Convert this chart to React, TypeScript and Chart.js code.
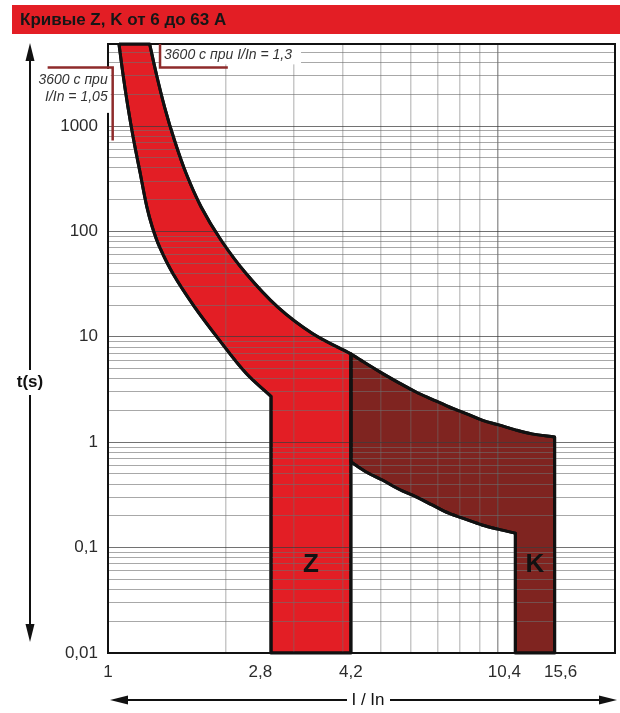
import React, { useEffect, useRef } from "react";
import { Chart, registerables } from "chart.js";

Chart.register(...registerables);

// ---------- texts ----------
const chartTitle = "Кривые Z, K от 6 до 63 A";
const yAxisTitle = "t(s)";
const xAxisTitle = "I / In";
const bandNames = ["Z", "K"];

// ---------- axes ----------
const xRange = [1, 20];
const yRange = [0.01, 6000];
const xGridValues = [1, 2, 3, 4, 5, 6, 7, 8, 9, 10, 20];
const yDecades = [0.01, 0.1, 1, 10, 100, 1000];
const yGridMultipliers = [1, 2, 3, 4, 5, 6, 7, 8, 9];
const yTickLabels = ["0,01", "0,1", "1", "10", "100", "1000"];
const xTickLabels = ["1", "2,8", "4,2", "10,4", "15,6"];
const xTickLabelPositions = [1, 2.46, 4.2, 10.4, 14.5];

// ---------- Z band ----------
const zBandStart = 2.62;
const zBandEnd = 4.2;
const zLowerX = [1.067, 1.092, 1.125, 1.164, 1.21, 1.258, 1.299, 1.356, 1.467, 1.667, 1.931, 2.261, 2.62];
const zLowerT = [6000, 3139, 1514, 732, 354, 170.7, 110.3, 71.3, 39.9, 19.25, 9.3, 4.5, 2.72];
const zUpperX = [1.279, 1.33, 1.397, 1.481, 1.587, 1.734, 1.951, 2.261, 2.723, 3.347, 4.2];
const zUpperT = [6000, 3139, 1514, 732, 354, 170.7, 82.5, 39.9, 19.25, 10.77, 6.9];

// ---------- K band ----------
const kBandStart = 11.1;
const kBandEnd = 14.0;
const kUpperX = [4.2, 4.585, 5.058, 5.58, 6.157, 6.789, 7.49, 8.265, 9.116, 10.06, 11.1, 12.24, 14.0];
const kUpperT = [6.9, 5.6, 4.5, 3.66, 3.01, 2.55, 2.17, 1.88, 1.62, 1.46, 1.31, 1.2, 1.12];
const kLowerX = [4.2, 4.585, 5.058, 5.58, 6.157, 6.789, 7.49, 8.265, 9.116, 10.06, 11.1];
const kLowerT = [0.653, 0.525, 0.438, 0.358, 0.304, 0.254, 0.212, 0.186, 0.164, 0.149, 0.137];

// ---------- annotations ----------
const noteT = 3600;
const note13Text = "3600 с при I/In = 1,3";
const note13X = 1.36;
const note13XEnd = 2.03;
const note105Lines = ["3600 с при", "I/In = 1,05"];
const note105XStart = 0.7;
const note105X = 1.028;
const note105TEnd = 730;
const bandLabelT = 0.068;

// ---------- styling ----------
const FONT = "'Liberation Sans', Arial, Helvetica, sans-serif";
const Z_COLOR = "#e31e25";
const K_COLOR = "#7f2420";
const NOTE_COLOR = "#8e2b2b";

type P = { x: number; y: number };
const pts = (xs: number[], ts: number[]): P[] => xs.map((x, i) => ({ x, y: ts[i] }));
// a repeated point keeps a sharp corner when the outline is smoothed
const corner = (p: P): P[] => [p, { ...p }];

const zLower = pts(zLowerX, zLowerT);
const zUpper = pts(zUpperX, zUpperT).reverse();
const zOutline: P[] = [
  ...corner(zLower[0]),
  ...zLower.slice(1, -1),
  ...corner(zLower[zLower.length - 1]),
  ...corner({ x: zBandStart, y: yRange[0] }),
  ...corner({ x: zBandEnd, y: yRange[0] }),
  ...corner(zUpper[0]),
  ...zUpper.slice(1, -1),
  ...corner(zUpper[zUpper.length - 1]),
  ...corner(zLower[0]),
];

const kUpper = pts(kUpperX, kUpperT);
const kLower = pts(kLowerX, kLowerT).reverse();
const kOutline: P[] = [
  ...corner(kUpper[0]),
  ...kUpper.slice(1, -1),
  ...corner(kUpper[kUpper.length - 1]),
  ...corner({ x: kBandEnd, y: yRange[0] }),
  ...corner({ x: kBandStart, y: yRange[0] }),
  ...corner(kLower[0]),
  ...kLower.slice(1, -1),
  ...corner(kLower[kLower.length - 1]),
  ...corner(kUpper[0]),
];

const yGridValues = yDecades
  .flatMap((d) => yGridMultipliers.map((m) => +(d * m).toPrecision(6)))
  .filter((v) => v <= yRange[1]);
const xTickValues = Array.from(new Set([...xGridValues, ...xTickLabelPositions])).sort((a, b) => a - b);

const decorPlugin = {
  id: "decor",
  afterDraw(chart: any) {
    const { ctx, chartArea: a, scales } = chart;
    const px = (v: number) => scales.x.getPixelForValue(v);
    const py = (v: number) => scales.y.getPixelForValue(v);

    // band outlines above the grid
    ctx.save();
    ctx.beginPath();
    ctx.rect(a.left - 2, a.top - 2, a.right - a.left + 4, a.bottom - a.top + 4);
    ctx.clip();
    chart.data.datasets.forEach((_: any, i: number) => {
      const meta = chart.getDatasetMeta(i);
      if (meta.dataset) meta.dataset.draw(ctx, a);
    });
    ctx.restore();

    // frame
    ctx.save();
    ctx.strokeStyle = "#111";
    ctx.lineWidth = 2;
    ctx.strokeRect(a.left, a.top, a.right - a.left, a.bottom - a.top);
    ctx.restore();

    // band labels
    ctx.save();
    ctx.fillStyle = "#111";
    ctx.font = `bold 26px ${FONT}`;
    ctx.textAlign = "center";
    ctx.textBaseline = "middle";
    ctx.fillText(bandNames[0], px(Math.sqrt(zBandStart * zBandEnd)), py(bandLabelT));
    ctx.fillText(bandNames[1], px(Math.sqrt(kBandStart * kBandEnd)), py(bandLabelT));
    ctx.restore();

    // title bar
    ctx.save();
    ctx.fillStyle = "#e31e25";
    ctx.fillRect(12, 5, chart.width - 12, 29);
    ctx.fillStyle = "#161616";
    ctx.font = `bold 17px ${FONT}`;
    ctx.textAlign = "left";
    ctx.textBaseline = "middle";
    ctx.fillText(chartTitle, 20, 20);
    ctx.restore();

    // y arrow
    ctx.save();
    ctx.strokeStyle = "#111";
    ctx.fillStyle = "#111";
    ctx.lineWidth = 2;
    const ax = 30;
    ctx.beginPath();
    ctx.moveTo(ax, 58);
    ctx.lineTo(ax, 370);
    ctx.moveTo(ax, 395);
    ctx.lineTo(ax, 626);
    ctx.stroke();
    ctx.beginPath();
    ctx.moveTo(ax, 43);
    ctx.lineTo(ax - 4.5, 61);
    ctx.lineTo(ax + 4.5, 61);
    ctx.closePath();
    ctx.fill();
    ctx.beginPath();
    ctx.moveTo(ax, 642);
    ctx.lineTo(ax - 4.5, 624);
    ctx.lineTo(ax + 4.5, 624);
    ctx.closePath();
    ctx.fill();
    ctx.font = `bold 17px ${FONT}`;
    ctx.textAlign = "center";
    ctx.textBaseline = "middle";
    ctx.fillText(yAxisTitle, ax, 382);

    // x arrow
    const ay = 700;
    ctx.beginPath();
    ctx.moveTo(126, ay);
    ctx.lineTo(347, ay);
    ctx.moveTo(390, ay);
    ctx.lineTo(601, ay);
    ctx.stroke();
    ctx.beginPath();
    ctx.moveTo(110, ay);
    ctx.lineTo(128, ay - 4.5);
    ctx.lineTo(128, ay + 4.5);
    ctx.closePath();
    ctx.fill();
    ctx.beginPath();
    ctx.moveTo(617, ay);
    ctx.lineTo(599, ay - 4.5);
    ctx.lineTo(599, ay + 4.5);
    ctx.closePath();
    ctx.fill();
    ctx.font = `17px ${FONT}`;
    ctx.fillText(xAxisTitle, 368, ay);
    ctx.restore();

    // annotation 1,3
    ctx.save();
    const n13x = px(note13X);
    const nty = py(noteT);
    ctx.fillStyle = "#fff";
    ctx.fillRect(n13x + 1, a.top + 1, 140, nty - a.top - 4);
    ctx.strokeStyle = NOTE_COLOR;
    ctx.lineWidth = 2.5;
    ctx.beginPath();
    ctx.moveTo(n13x, a.top);
    ctx.lineTo(n13x, nty);
    ctx.lineTo(px(note13XEnd), nty);
    ctx.stroke();
    ctx.fillStyle = "#333";
    ctx.font = `italic 14px ${FONT}`;
    ctx.textAlign = "left";
    ctx.textBaseline = "middle";
    ctx.fillText(note13Text, n13x + 4, a.top + 11);

    // annotation 1,05
    const n105x = px(note105X);
    ctx.fillStyle = "#fff";
    ctx.fillRect(37, nty + 1.5, n105x - 39, 44);
    ctx.strokeStyle = NOTE_COLOR;
    ctx.beginPath();
    ctx.moveTo(px(note105XStart), nty);
    ctx.lineTo(n105x, nty);
    ctx.lineTo(n105x, py(note105TEnd));
    ctx.stroke();
    ctx.fillStyle = "#333";
    ctx.textAlign = "right";
    ctx.fillText(note105Lines[0], n105x - 5, nty + 13);
    ctx.fillText(note105Lines[1], n105x - 5, nty + 30);
    ctx.restore();
  },
};

const bandDataset = (label: string, data: P[], color: string) => ({
  label,
  data,
  backgroundColor: color,
  borderColor: "#111",
  borderWidth: 3,
  pointRadius: 0,
  tension: 0.35,
  fill: "shape",
  borderJoinStyle: "round",
});

export default function App() {
  const ref = useRef<HTMLCanvasElement>(null);
  useEffect(() => {
    const canvas = ref.current;
    if (!canvas) return;
    const chart = new Chart(canvas, {
      type: "line",
      data: {
        datasets: [bandDataset("Z", zOutline, Z_COLOR), bandDataset("K", kOutline, K_COLOR)],
      },
      options: {
        responsive: false,
        animation: false,
        devicePixelRatio: 1,
        events: [],
        layout: { padding: { top: 44, right: 5, left: 0, bottom: 0 } },
        plugins: { legend: { display: false }, tooltip: { enabled: false }, title: { display: false } },
        scales: {
          x: {
            type: "logarithmic",
            min: xRange[0],
            max: xRange[1],
            afterBuildTicks: (s: any) => {
              s.ticks = xTickValues.map((v) => ({ value: v }));
            },
            afterFit: (s: any) => {
              s.height = 60;
              s.paddingLeft = 0;
              s.paddingRight = 0;
            },
            border: { display: false },
            grid: {
              drawTicks: false,
              z: 1,
              color: (c: any) => {
                const v = c.tick && c.tick.value;
                if (!xGridValues.includes(v)) return "rgba(0,0,0,0)";
                return v === 10 ? "rgba(90,90,90,0.6)" : "rgba(110,110,110,0.38)";
              },
              lineWidth: 1.5,
            },
            ticks: {
              autoSkip: false,
              maxRotation: 0,
              minRotation: 0,
              padding: 9,
              color: "#2b2b2b",
              font: { family: FONT, size: 17 },
              callback: (v: any) => {
                const i = xTickLabelPositions.indexOf(v);
                return i >= 0 ? xTickLabels[i] : "";
              },
            },
          },
          y: {
            type: "logarithmic",
            min: yRange[0],
            max: yRange[1],
            afterBuildTicks: (s: any) => {
              s.ticks = yGridValues.map((v) => ({ value: v }));
            },
            afterFit: (s: any) => {
              s.width = 108;
            },
            border: { display: false },
            grid: {
              drawTicks: false,
              z: 1,
              color: (c: any) =>
                c.tick && yDecades.includes(c.tick.value) ? "rgba(60,60,60,0.72)" : "rgba(110,110,110,0.6)",
              lineWidth: 1,
            },
            ticks: {
              autoSkip: false,
              padding: 10,
              color: "#2b2b2b",
              font: { family: FONT, size: 17 },
              callback: (v: any) => {
                const i = yDecades.indexOf(v);
                return i >= 0 ? yTickLabels[i] : "";
              },
            },
          },
        },
      } as any,
      plugins: [decorPlugin],
    });
    return () => chart.destroy();
  }, []);
  return (
    <div style={{ position: "absolute", left: 0, top: 0, width: 620, height: 713, background: "#fff" }}>
      <canvas ref={ref} width={620} height={713} style={{ display: "block", width: 620, height: 713 }} />
    </div>
  );
}
